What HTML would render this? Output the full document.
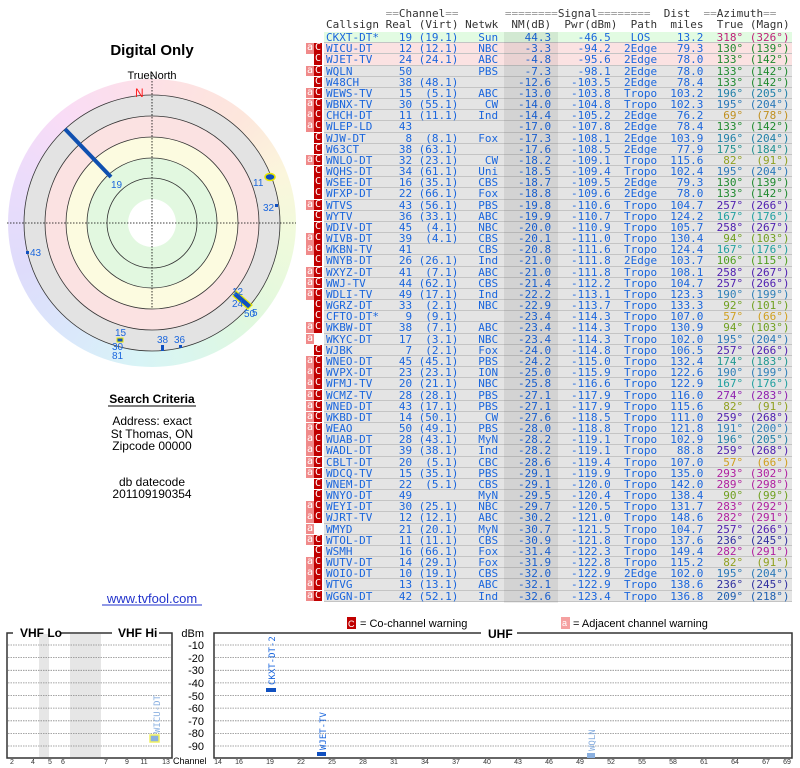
<!DOCTYPE html>
<html><head><meta charset="utf-8">
<style>
*{margin:0;padding:0;box-sizing:border-box}
body{width:800px;height:768px;background:#fff;position:relative;overflow:hidden;font-family:"Liberation Sans",sans-serif}
.ab{position:absolute}
.mono{font-family:"DejaVu Sans Mono","Liberation Mono",monospace;font-size:11px;white-space:pre}
.hd{position:absolute;left:326px;color:#333;line-height:11px}
.hd .q{color:#999}
#rows{position:absolute;left:304px;top:32px;width:490px}
.r{height:11.18px;line-height:11.18px;display:flex;font-family:"DejaVu Sans Mono","Liberation Mono",monospace;font-size:11px;white-space:pre;color:#1a66dd}
.mk{width:20px;display:flex;padding-left:2px}
.mk i{display:inline-block;width:8px;height:10.6px;font-style:normal;font-size:10px;line-height:10.6px;text-align:center;color:#fff}
.mk .ia{background:#f08a8a}
.mk .ic{background:#c00000}
.t{width:468px;background:#e4e4e4;box-shadow:inset 0 -1px #c4c4c4;padding-left:2px}
.g1 .t{background:#e2fbe2}
.p1 .t{background:#fbe2e2}
.t span{display:inline-block;text-align:right}
.t .a{width:9ch;text-align:left}.t .b{width:4ch}.t .c{width:7ch}.t .d{width:6ch}.t .e{width:8ch}.t .f{width:9ch}
.t .g{width:7ch;padding-left:2ch;text-align:center}.t .h{width:7ch}.t .k{width:6ch}.t .m{width:7ch}
.t span.z{display:inline}
</style></head><body>

<!-- polar wheel background -->
<div class="ab" style="left:8px;top:79px;width:288px;height:288px;border-radius:50%;background:conic-gradient(from 0deg,#fde0e6,#fde6dc 40deg,#fbf6dc 70deg,#f0fadc 95deg,#e0f8de 135deg,#daf6ee 165deg,#d8f4f6 185deg,#dae8fb 215deg,#dedcfb 250deg,#ecdcfb 290deg,#f9dcf6 320deg,#fde0e6)"></div>

<svg class="ab" style="left:0;top:0" width="800" height="768" viewBox="0 0 800 768" font-family="Liberation Sans, sans-serif">
<text x="152" y="55" font-size="15" font-weight="bold" text-anchor="middle" fill="#000">Digital Only</text>
<text x="152" y="79" font-size="11" text-anchor="middle" fill="#000">TrueNorth</text>
<circle cx="152" cy="223" r="128" fill="#e3e3e3" stroke="#333" stroke-width="0.8"/>
<circle cx="152" cy="223" r="107" fill="#fbe2e2" stroke="#333" stroke-width="0.8"/>
<circle cx="152" cy="223" r="86" fill="#fcfbe0" stroke="#333" stroke-width="0.8"/>
<circle cx="152" cy="223" r="65" fill="#e2f8e0" stroke="#333" stroke-width="0.8"/>
<circle cx="152" cy="223" r="45" fill="#e2f8e0" stroke="#333" stroke-width="0.8"/>
<circle cx="152" cy="223" r="24" fill="#fff"/>
<line x1="7" y1="223" x2="296" y2="223" stroke="#000" stroke-width="0.8" stroke-dasharray="1.5,1.5"/>
<line x1="152" y1="72" x2="152" y2="308" stroke="#000" stroke-width="0.8" stroke-dasharray="1.5,1.5"/>
<text x="135" y="97" font-size="12" fill="#ff2020">N</text>
<line x1="65" y1="129" x2="111" y2="177" stroke="#1050b0" stroke-width="4"/>
<g font-size="10" fill="#1a66dd">
<text x="111" y="188">19</text>
<ellipse cx="270" cy="177" rx="5" ry="3.5" fill="#1050c0" stroke="#e8e800" stroke-width="1.5"/>
<text x="253" y="186">11</text>
<rect x="275" y="204" width="3" height="3" fill="#1050c0"/><text x="263" y="211">32</text>
<rect x="26" y="251" width="3" height="3" fill="#1050c0"/><text x="30" y="256">43</text>
<polygon points="236,291 252,305 248,309 233,296" fill="#1050c0" stroke="#e8e800" stroke-width="1.2"/>
<text x="232" y="295">12</text><text x="232" y="307">24</text><text x="244" y="317">50</text><text x="252" y="316">5</text>
<text x="115" y="336">15</text>
<rect x="117" y="338" width="6" height="4" fill="#1050c0" stroke="#e8e800" stroke-width="1"/>
<text x="112" y="350">30</text><text x="112" y="359">81</text>
<rect x="161" y="345" width="3" height="6" fill="#1050c0"/><text x="157" y="343">38</text>
<rect x="179" y="345" width="3" height="3" fill="#1050c0"/><text x="174" y="343">36</text>
</g>

<!-- search criteria -->
<g font-size="12" fill="#000" text-anchor="middle">
<text x="152" y="403" font-weight="bold">Search Criteria</text>
<line x1="108" y1="406" x2="196" y2="406" stroke="#000" stroke-width="1"/>
<text x="152" y="425">Address: exact</text>
<text x="152" y="438">St Thomas, ON</text>
<text x="152" y="450">Zipcode 00000</text>
<text x="152" y="486">db datecode</text>
<text x="152" y="498">201109190354</text>
<text x="152" y="603" fill="#2233cc" font-size="13">www.tvfool.com</text>
<line x1="102" y1="605" x2="202" y2="605" stroke="#2233cc" stroke-width="1"/>
</g>

<!-- legend -->
<rect x="347" y="617" width="9" height="12" fill="#c00000"/><text x="348" y="627" font-size="9" fill="#fff">C</text>
<text x="360" y="627" font-size="11" fill="#000">= Co-channel warning</text>
<rect x="561" y="617" width="9" height="12" fill="#f5a0a0"/><text x="562" y="626" font-size="9" fill="#fff">a</text>
<text x="573" y="627" font-size="11" fill="#000">= Adjacent channel warning</text>

<!-- VHF panel -->
<rect x="39" y="634" width="10" height="123" fill="#e6e6e6"/>
<rect x="70" y="634" width="31" height="123" fill="#e6e6e6"/>
<g stroke="#888" stroke-width="0.8" stroke-dasharray="1.5,1">
<line x1="8" y1="645" x2="171" y2="645"/><line x1="8" y1="657.6" x2="171" y2="657.6"/><line x1="8" y1="670.3" x2="171" y2="670.3"/><line x1="8" y1="682.9" x2="171" y2="682.9"/><line x1="8" y1="695.5" x2="171" y2="695.5"/><line x1="8" y1="708.1" x2="171" y2="708.1"/><line x1="8" y1="720.8" x2="171" y2="720.8"/><line x1="8" y1="733.4" x2="171" y2="733.4"/><line x1="8" y1="746" x2="171" y2="746"/>
<line x1="215" y1="645" x2="791" y2="645"/><line x1="215" y1="657.6" x2="791" y2="657.6"/><line x1="215" y1="670.3" x2="791" y2="670.3"/><line x1="215" y1="682.9" x2="791" y2="682.9"/><line x1="215" y1="695.5" x2="791" y2="695.5"/><line x1="215" y1="708.1" x2="791" y2="708.1"/><line x1="215" y1="720.8" x2="791" y2="720.8"/><line x1="215" y1="733.4" x2="791" y2="733.4"/><line x1="215" y1="746" x2="791" y2="746"/>
</g>
<g stroke="#333" stroke-width="1.5" fill="none">
<polyline points="13,633 7,633 7,758 172,758 172,633 159,633"/>
<line x1="61" y1="633" x2="112" y2="633"/>
<polyline points="481,633 214,633 214,758 792,758 792,633 517,633"/>
</g>
<text x="20" y="637" font-size="12" font-weight="bold" fill="#000">VHF Lo</text>
<text x="118" y="637" font-size="12" font-weight="bold" fill="#000">VHF Hi</text>
<text x="488" y="638" font-size="12" font-weight="bold" fill="#000">UHF</text>
<g font-size="11" fill="#000" text-anchor="end">
<text x="204" y="637">dBm</text><text x="204" y="649">-10</text><text x="204" y="662">-20</text><text x="204" y="674">-30</text><text x="204" y="687">-40</text><text x="204" y="700">-50</text><text x="204" y="712">-60</text><text x="204" y="725">-70</text><text x="204" y="737">-80</text><text x="204" y="750">-90</text>
</g>
<text x="173" y="764" font-size="9" fill="#000">Channel</text>
<g font-size="7" fill="#333" text-anchor="middle">
<text x="12" y="764">2</text><text x="33" y="764">4</text><text x="50" y="764">5</text><text x="63" y="764">6</text><text x="106" y="764">7</text><text x="127" y="764">9</text><text x="144" y="764">11</text><text x="166" y="764">13</text>
<text x="218" y="764">14</text><text x="239" y="764">16</text><text x="270" y="764">19</text><text x="301" y="764">22</text><text x="332" y="764">25</text><text x="363" y="764">28</text><text x="394" y="764">31</text><text x="425" y="764">34</text><text x="456" y="764">37</text><text x="487" y="764">40</text><text x="518" y="764">43</text><text x="549" y="764">46</text><text x="580" y="764">49</text><text x="611" y="764">52</text><text x="642" y="764">55</text><text x="673" y="764">58</text><text x="704" y="764">61</text><text x="735" y="764">64</text><text x="766" y="764">67</text><text x="787" y="764">69</text>
</g>
<rect x="150" y="735" width="9" height="7" fill="#8ab0e0" stroke="#f0f060" stroke-width="1.5"/>
<text transform="translate(160,733) rotate(-90)" font-size="9" fill="#8ab0e0" font-family="DejaVu Sans Mono, monospace">WICU-DT</text>
<rect x="266" y="688" width="10" height="4" fill="#1050c0"/>
<text transform="translate(275,685) rotate(-90)" font-size="9" fill="#1a66dd" font-family="DejaVu Sans Mono, monospace">CKXT-DT-2</text>
<rect x="317" y="752" width="9" height="4" fill="#1050c0"/>
<text transform="translate(326,750) rotate(-90)" font-size="9" fill="#1a66dd" font-family="DejaVu Sans Mono, monospace">WJET-TV</text>
<rect x="587" y="753" width="8" height="5" fill="#8ab0e0"/>
<text transform="translate(595,751) rotate(-90)" font-size="9" fill="#8ab0e0" font-family="DejaVu Sans Mono, monospace">WQLN</text>
</svg>

<div class="hd mono" style="top:8px"><span class="q">         ==</span>Channel<span class="q">==</span>       <span class="q">========</span>Signal<span class="q">========</span>  Dist  <span class="q">==</span>Azimuth<span class="q">==</span></div>
<div class="hd mono" style="top:19px">Callsign Real (Virt) Netwk  NM(dB)  Pwr(dBm)  Path  miles  True (Magn)</div>

<div id="rows">
<div class="r g1"><span class="mk"><i></i><i></i></span><span class="t"><span class="a">CKXT-DT*</span><span class="b">19</span><span class="c">(19.1)</span><span class="d">Sun</span><span class="e">44.3</span><span class="f">-46.5</span><span class="g">LOS</span><span class="h">13.2</span><span class="z" style="color:#c0207a"><span class="k">318°</span><span class="m">(326°)</span></span></span></div>
<div class="r p1"><span class="mk"><i class="ia">a</i><i class="ic">C</i></span><span class="t"><span class="a">WICU-DT</span><span class="b">12</span><span class="c">(12.1)</span><span class="d">NBC</span><span class="e">-3.3</span><span class="f">-94.2</span><span class="g">2Edge</span><span class="h">79.3</span><span class="z" style="color:#208a30"><span class="k">130°</span><span class="m">(139°)</span></span></span></div>
<div class="r p1"><span class="mk"><i></i><i class="ic">C</i></span><span class="t"><span class="a">WJET-TV</span><span class="b">24</span><span class="c">(24.1)</span><span class="d">ABC</span><span class="e">-4.8</span><span class="f">-95.6</span><span class="g">2Edge</span><span class="h">78.0</span><span class="z" style="color:#208a30"><span class="k">133°</span><span class="m">(142°)</span></span></span></div>
<div class="r"><span class="mk"><i class="ia">a</i><i class="ic">C</i></span><span class="t"><span class="a">WQLN</span><span class="b">50</span><span class="c"></span><span class="d">PBS</span><span class="e">-7.3</span><span class="f">-98.1</span><span class="g">2Edge</span><span class="h">78.0</span><span class="z" style="color:#208a30"><span class="k">133°</span><span class="m">(142°)</span></span></span></div>
<div class="r"><span class="mk"><i></i><i class="ic">C</i></span><span class="t"><span class="a">W48CH</span><span class="b">38</span><span class="c">(48.1)</span><span class="d"></span><span class="e">-12.6</span><span class="f">-103.5</span><span class="g">2Edge</span><span class="h">78.4</span><span class="z" style="color:#208a30"><span class="k">133°</span><span class="m">(142°)</span></span></span></div>
<div class="r"><span class="mk"><i class="ia">a</i><i class="ic">C</i></span><span class="t"><span class="a">WEWS-TV</span><span class="b">15</span><span class="c">(5.1)</span><span class="d">ABC</span><span class="e">-13.0</span><span class="f">-103.8</span><span class="g">Tropo</span><span class="h">103.2</span><span class="z" style="color:#2080a8"><span class="k">196°</span><span class="m">(205°)</span></span></span></div>
<div class="r"><span class="mk"><i class="ia">a</i><i class="ic">C</i></span><span class="t"><span class="a">WBNX-TV</span><span class="b">30</span><span class="c">(55.1)</span><span class="d">CW</span><span class="e">-14.0</span><span class="f">-104.8</span><span class="g">Tropo</span><span class="h">102.3</span><span class="z" style="color:#2a78b8"><span class="k">195°</span><span class="m">(204°)</span></span></span></div>
<div class="r"><span class="mk"><i class="ia">a</i><i class="ic">C</i></span><span class="t"><span class="a">CHCH-DT</span><span class="b">11</span><span class="c">(11.1)</span><span class="d">Ind</span><span class="e">-14.4</span><span class="f">-105.2</span><span class="g">2Edge</span><span class="h">76.2</span><span class="z" style="color:#c09020"><span class="k">69°</span><span class="m">(78°)</span></span></span></div>
<div class="r"><span class="mk"><i class="ia">a</i><i class="ic">C</i></span><span class="t"><span class="a">WLEP-LD</span><span class="b">43</span><span class="c"></span><span class="d"></span><span class="e">-17.0</span><span class="f">-107.8</span><span class="g">2Edge</span><span class="h">78.4</span><span class="z" style="color:#208a30"><span class="k">133°</span><span class="m">(142°)</span></span></span></div>
<div class="r"><span class="mk"><i></i><i class="ic">C</i></span><span class="t"><span class="a">WJW-DT</span><span class="b">8</span><span class="c">(8.1)</span><span class="d">Fox</span><span class="e">-17.3</span><span class="f">-108.1</span><span class="g">2Edge</span><span class="h">103.9</span><span class="z" style="color:#2080a8"><span class="k">196°</span><span class="m">(204°)</span></span></span></div>
<div class="r"><span class="mk"><i></i><i class="ic">C</i></span><span class="t"><span class="a">W63CT</span><span class="b">38</span><span class="c">(63.1)</span><span class="d"></span><span class="e">-17.6</span><span class="f">-108.5</span><span class="g">2Edge</span><span class="h">77.9</span><span class="z" style="color:#209090"><span class="k">175°</span><span class="m">(184°)</span></span></span></div>
<div class="r"><span class="mk"><i class="ia">a</i><i class="ic">C</i></span><span class="t"><span class="a">WNLO-DT</span><span class="b">32</span><span class="c">(23.1)</span><span class="d">CW</span><span class="e">-18.2</span><span class="f">-109.1</span><span class="g">Tropo</span><span class="h">115.6</span><span class="z" style="color:#90a020"><span class="k">82°</span><span class="m">(91°)</span></span></span></div>
<div class="r"><span class="mk"><i></i><i class="ic">C</i></span><span class="t"><span class="a">WQHS-DT</span><span class="b">34</span><span class="c">(61.1)</span><span class="d">Uni</span><span class="e">-18.5</span><span class="f">-109.4</span><span class="g">Tropo</span><span class="h">102.4</span><span class="z" style="color:#2a78b8"><span class="k">195°</span><span class="m">(204°)</span></span></span></div>
<div class="r"><span class="mk"><i></i><i class="ic">C</i></span><span class="t"><span class="a">WSEE-DT</span><span class="b">16</span><span class="c">(35.1)</span><span class="d">CBS</span><span class="e">-18.7</span><span class="f">-109.5</span><span class="g">2Edge</span><span class="h">79.3</span><span class="z" style="color:#208a30"><span class="k">130°</span><span class="m">(139°)</span></span></span></div>
<div class="r"><span class="mk"><i></i><i class="ic">C</i></span><span class="t"><span class="a">WFXP-DT</span><span class="b">22</span><span class="c">(66.1)</span><span class="d">Fox</span><span class="e">-18.8</span><span class="f">-109.6</span><span class="g">2Edge</span><span class="h">78.0</span><span class="z" style="color:#208a30"><span class="k">133°</span><span class="m">(142°)</span></span></span></div>
<div class="r"><span class="mk"><i class="ia">a</i><i class="ic">C</i></span><span class="t"><span class="a">WTVS</span><span class="b">43</span><span class="c">(56.1)</span><span class="d">PBS</span><span class="e">-19.8</span><span class="f">-110.6</span><span class="g">Tropo</span><span class="h">104.7</span><span class="z" style="color:#5020b0"><span class="k">257°</span><span class="m">(266°)</span></span></span></div>
<div class="r"><span class="mk"><i></i><i class="ic">C</i></span><span class="t"><span class="a">WYTV</span><span class="b">36</span><span class="c">(33.1)</span><span class="d">ABC</span><span class="e">-19.9</span><span class="f">-110.7</span><span class="g">Tropo</span><span class="h">124.2</span><span class="z" style="color:#20a0a0"><span class="k">167°</span><span class="m">(176°)</span></span></span></div>
<div class="r"><span class="mk"><i></i><i class="ic">C</i></span><span class="t"><span class="a">WDIV-DT</span><span class="b">45</span><span class="c">(4.1)</span><span class="d">NBC</span><span class="e">-20.0</span><span class="f">-110.9</span><span class="g">Tropo</span><span class="h">105.7</span><span class="z" style="color:#5020b0"><span class="k">258°</span><span class="m">(267°)</span></span></span></div>
<div class="r"><span class="mk"><i class="ia">a</i><i class="ic">C</i></span><span class="t"><span class="a">WIVB-DT</span><span class="b">39</span><span class="c">(4.1)</span><span class="d">CBS</span><span class="e">-20.1</span><span class="f">-111.0</span><span class="g">Tropo</span><span class="h">130.4</span><span class="z" style="color:#70a020"><span class="k">94°</span><span class="m">(103°)</span></span></span></div>
<div class="r"><span class="mk"><i class="ia">a</i><i class="ic">C</i></span><span class="t"><span class="a">WKBN-TV</span><span class="b">41</span><span class="c"></span><span class="d">CBS</span><span class="e">-20.8</span><span class="f">-111.6</span><span class="g">Tropo</span><span class="h">124.4</span><span class="z" style="color:#20a0a0"><span class="k">167°</span><span class="m">(176°)</span></span></span></div>
<div class="r"><span class="mk"><i></i><i class="ic">C</i></span><span class="t"><span class="a">WNYB-DT</span><span class="b">26</span><span class="c">(26.1)</span><span class="d">Ind</span><span class="e">-21.0</span><span class="f">-111.8</span><span class="g">2Edge</span><span class="h">103.7</span><span class="z" style="color:#50a020"><span class="k">106°</span><span class="m">(115°)</span></span></span></div>
<div class="r"><span class="mk"><i class="ia">a</i><i class="ic">C</i></span><span class="t"><span class="a">WXYZ-DT</span><span class="b">41</span><span class="c">(7.1)</span><span class="d">ABC</span><span class="e">-21.0</span><span class="f">-111.8</span><span class="g">Tropo</span><span class="h">108.1</span><span class="z" style="color:#5020b0"><span class="k">258°</span><span class="m">(267°)</span></span></span></div>
<div class="r"><span class="mk"><i class="ia">a</i><i class="ic">C</i></span><span class="t"><span class="a">WWJ-TV</span><span class="b">44</span><span class="c">(62.1)</span><span class="d">CBS</span><span class="e">-21.4</span><span class="f">-112.2</span><span class="g">Tropo</span><span class="h">104.7</span><span class="z" style="color:#5020b0"><span class="k">257°</span><span class="m">(266°)</span></span></span></div>
<div class="r"><span class="mk"><i class="ia">a</i><i class="ic">C</i></span><span class="t"><span class="a">WDLI-TV</span><span class="b">49</span><span class="c">(17.1)</span><span class="d">Ind</span><span class="e">-22.2</span><span class="f">-113.1</span><span class="g">Tropo</span><span class="h">123.3</span><span class="z" style="color:#3080b8"><span class="k">190°</span><span class="m">(199°)</span></span></span></div>
<div class="r"><span class="mk"><i></i><i class="ic">C</i></span><span class="t"><span class="a">WGRZ-DT</span><span class="b">33</span><span class="c">(2.1)</span><span class="d">NBC</span><span class="e">-22.9</span><span class="f">-113.7</span><span class="g">Tropo</span><span class="h">133.3</span><span class="z" style="color:#70a020"><span class="k">92°</span><span class="m">(101°)</span></span></span></div>
<div class="r"><span class="mk"><i></i><i class="ic">C</i></span><span class="t"><span class="a">CFTO-DT*</span><span class="b">9</span><span class="c">(9.1)</span><span class="d"></span><span class="e">-23.4</span><span class="f">-114.3</span><span class="g">Tropo</span><span class="h">107.0</span><span class="z" style="color:#d0a020"><span class="k">57°</span><span class="m">(66°)</span></span></span></div>
<div class="r"><span class="mk"><i class="ia">a</i><i class="ic">C</i></span><span class="t"><span class="a">WKBW-DT</span><span class="b">38</span><span class="c">(7.1)</span><span class="d">ABC</span><span class="e">-23.4</span><span class="f">-114.3</span><span class="g">Tropo</span><span class="h">130.9</span><span class="z" style="color:#70a020"><span class="k">94°</span><span class="m">(103°)</span></span></span></div>
<div class="r"><span class="mk"><i class="ia">a</i><i></i></span><span class="t"><span class="a">WKYC-DT</span><span class="b">17</span><span class="c">(3.1)</span><span class="d">NBC</span><span class="e">-23.4</span><span class="f">-114.3</span><span class="g">Tropo</span><span class="h">102.0</span><span class="z" style="color:#2a78b8"><span class="k">195°</span><span class="m">(204°)</span></span></span></div>
<div class="r"><span class="mk"><i></i><i class="ic">C</i></span><span class="t"><span class="a">WJBK</span><span class="b">7</span><span class="c">(2.1)</span><span class="d">Fox</span><span class="e">-24.0</span><span class="f">-114.8</span><span class="g">Tropo</span><span class="h">106.5</span><span class="z" style="color:#5020b0"><span class="k">257°</span><span class="m">(266°)</span></span></span></div>
<div class="r"><span class="mk"><i class="ia">a</i><i class="ic">C</i></span><span class="t"><span class="a">WNEO-DT</span><span class="b">45</span><span class="c">(45.1)</span><span class="d">PBS</span><span class="e">-24.2</span><span class="f">-115.0</span><span class="g">Tropo</span><span class="h">132.4</span><span class="z" style="color:#209890"><span class="k">174°</span><span class="m">(183°)</span></span></span></div>
<div class="r"><span class="mk"><i class="ia">a</i><i class="ic">C</i></span><span class="t"><span class="a">WVPX-DT</span><span class="b">23</span><span class="c">(23.1)</span><span class="d">ION</span><span class="e">-25.0</span><span class="f">-115.9</span><span class="g">Tropo</span><span class="h">122.6</span><span class="z" style="color:#3080b8"><span class="k">190°</span><span class="m">(199°)</span></span></span></div>
<div class="r"><span class="mk"><i class="ia">a</i><i class="ic">C</i></span><span class="t"><span class="a">WFMJ-TV</span><span class="b">20</span><span class="c">(21.1)</span><span class="d">NBC</span><span class="e">-25.8</span><span class="f">-116.6</span><span class="g">Tropo</span><span class="h">122.9</span><span class="z" style="color:#20a0a0"><span class="k">167°</span><span class="m">(176°)</span></span></span></div>
<div class="r"><span class="mk"><i class="ia">a</i><i class="ic">C</i></span><span class="t"><span class="a">WCMZ-TV</span><span class="b">28</span><span class="c">(28.1)</span><span class="d">PBS</span><span class="e">-27.1</span><span class="f">-117.9</span><span class="g">Tropo</span><span class="h">116.0</span><span class="z" style="color:#9020b0"><span class="k">274°</span><span class="m">(283°)</span></span></span></div>
<div class="r"><span class="mk"><i class="ia">a</i><i class="ic">C</i></span><span class="t"><span class="a">WNED-DT</span><span class="b">43</span><span class="c">(17.1)</span><span class="d">PBS</span><span class="e">-27.1</span><span class="f">-117.9</span><span class="g">Tropo</span><span class="h">115.6</span><span class="z" style="color:#90a020"><span class="k">82°</span><span class="m">(91°)</span></span></span></div>
<div class="r"><span class="mk"><i class="ia">a</i><i class="ic">C</i></span><span class="t"><span class="a">WKBD-DT</span><span class="b">14</span><span class="c">(50.1)</span><span class="d">CW</span><span class="e">-27.6</span><span class="f">-118.5</span><span class="g">Tropo</span><span class="h">111.0</span><span class="z" style="color:#5020b0"><span class="k">259°</span><span class="m">(268°)</span></span></span></div>
<div class="r"><span class="mk"><i class="ia">a</i><i class="ic">C</i></span><span class="t"><span class="a">WEAO</span><span class="b">50</span><span class="c">(49.1)</span><span class="d">PBS</span><span class="e">-28.0</span><span class="f">-118.8</span><span class="g">Tropo</span><span class="h">121.8</span><span class="z" style="color:#3080b8"><span class="k">191°</span><span class="m">(200°)</span></span></span></div>
<div class="r"><span class="mk"><i class="ia">a</i><i class="ic">C</i></span><span class="t"><span class="a">WUAB-DT</span><span class="b">28</span><span class="c">(43.1)</span><span class="d">MyN</span><span class="e">-28.2</span><span class="f">-119.1</span><span class="g">Tropo</span><span class="h">102.9</span><span class="z" style="color:#2080a8"><span class="k">196°</span><span class="m">(205°)</span></span></span></div>
<div class="r"><span class="mk"><i class="ia">a</i><i class="ic">C</i></span><span class="t"><span class="a">WADL-DT</span><span class="b">39</span><span class="c">(38.1)</span><span class="d">Ind</span><span class="e">-28.2</span><span class="f">-119.1</span><span class="g">Tropo</span><span class="h">88.8</span><span class="z" style="color:#5020b0"><span class="k">259°</span><span class="m">(268°)</span></span></span></div>
<div class="r"><span class="mk"><i class="ia">a</i><i class="ic">C</i></span><span class="t"><span class="a">CBLT-DT</span><span class="b">20</span><span class="c">(5.1)</span><span class="d">CBC</span><span class="e">-28.6</span><span class="f">-119.4</span><span class="g">Tropo</span><span class="h">107.0</span><span class="z" style="color:#d0a020"><span class="k">57°</span><span class="m">(66°)</span></span></span></div>
<div class="r"><span class="mk"><i class="ia">a</i><i class="ic">C</i></span><span class="t"><span class="a">WDCQ-TV</span><span class="b">15</span><span class="c">(35.1)</span><span class="d">PBS</span><span class="e">-29.1</span><span class="f">-119.9</span><span class="g">Tropo</span><span class="h">135.0</span><span class="z" style="color:#b020a0"><span class="k">293°</span><span class="m">(302°)</span></span></span></div>
<div class="r"><span class="mk"><i></i><i class="ic">C</i></span><span class="t"><span class="a">WNEM-DT</span><span class="b">22</span><span class="c">(5.1)</span><span class="d">CBS</span><span class="e">-29.1</span><span class="f">-120.0</span><span class="g">Tropo</span><span class="h">142.0</span><span class="z" style="color:#b020a0"><span class="k">289°</span><span class="m">(298°)</span></span></span></div>
<div class="r"><span class="mk"><i></i><i class="ic">C</i></span><span class="t"><span class="a">WNYO-DT</span><span class="b">49</span><span class="c"></span><span class="d">MyN</span><span class="e">-29.5</span><span class="f">-120.4</span><span class="g">Tropo</span><span class="h">138.4</span><span class="z" style="color:#70a020"><span class="k">90°</span><span class="m">(99°)</span></span></span></div>
<div class="r"><span class="mk"><i class="ia">a</i><i class="ic">C</i></span><span class="t"><span class="a">WEYI-DT</span><span class="b">30</span><span class="c">(25.1)</span><span class="d">NBC</span><span class="e">-29.7</span><span class="f">-120.5</span><span class="g">Tropo</span><span class="h">131.7</span><span class="z" style="color:#b020a0"><span class="k">283°</span><span class="m">(292°)</span></span></span></div>
<div class="r"><span class="mk"><i class="ia">a</i><i class="ic">C</i></span><span class="t"><span class="a">WJRT-TV</span><span class="b">12</span><span class="c">(12.1)</span><span class="d">ABC</span><span class="e">-30.2</span><span class="f">-121.0</span><span class="g">Tropo</span><span class="h">148.6</span><span class="z" style="color:#b020a0"><span class="k">282°</span><span class="m">(291°)</span></span></span></div>
<div class="r"><span class="mk"><i class="ia">a</i><i></i></span><span class="t"><span class="a">WMYD</span><span class="b">21</span><span class="c">(20.1)</span><span class="d">MyN</span><span class="e">-30.7</span><span class="f">-121.5</span><span class="g">Tropo</span><span class="h">104.7</span><span class="z" style="color:#5020b0"><span class="k">257°</span><span class="m">(266°)</span></span></span></div>
<div class="r"><span class="mk"><i class="ia">a</i><i class="ic">C</i></span><span class="t"><span class="a">WTOL-DT</span><span class="b">11</span><span class="c">(11.1)</span><span class="d">CBS</span><span class="e">-30.9</span><span class="f">-121.8</span><span class="g">Tropo</span><span class="h">137.6</span><span class="z" style="color:#3030a0"><span class="k">236°</span><span class="m">(245°)</span></span></span></div>
<div class="r"><span class="mk"><i></i><i class="ic">C</i></span><span class="t"><span class="a">WSMH</span><span class="b">16</span><span class="c">(66.1)</span><span class="d">Fox</span><span class="e">-31.4</span><span class="f">-122.3</span><span class="g">Tropo</span><span class="h">149.4</span><span class="z" style="color:#b020a0"><span class="k">282°</span><span class="m">(291°)</span></span></span></div>
<div class="r"><span class="mk"><i class="ia">a</i><i class="ic">C</i></span><span class="t"><span class="a">WUTV-DT</span><span class="b">14</span><span class="c">(29.1)</span><span class="d">Fox</span><span class="e">-31.9</span><span class="f">-122.8</span><span class="g">Tropo</span><span class="h">115.2</span><span class="z" style="color:#90a020"><span class="k">82°</span><span class="m">(91°)</span></span></span></div>
<div class="r"><span class="mk"><i class="ia">a</i><i class="ic">C</i></span><span class="t"><span class="a">WOIO-DT</span><span class="b">10</span><span class="c">(19.1)</span><span class="d">CBS</span><span class="e">-32.0</span><span class="f">-122.9</span><span class="g">2Edge</span><span class="h">102.0</span><span class="z" style="color:#2a78b8"><span class="k">195°</span><span class="m">(204°)</span></span></span></div>
<div class="r"><span class="mk"><i class="ia">a</i><i class="ic">C</i></span><span class="t"><span class="a">WTVG</span><span class="b">13</span><span class="c">(13.1)</span><span class="d">ABC</span><span class="e">-32.1</span><span class="f">-122.9</span><span class="g">Tropo</span><span class="h">138.6</span><span class="z" style="color:#3030a0"><span class="k">236°</span><span class="m">(245°)</span></span></span></div>
<div class="r"><span class="mk"><i class="ia">a</i><i class="ic">C</i></span><span class="t"><span class="a">WGGN-DT</span><span class="b">42</span><span class="c">(52.1)</span><span class="d">Ind</span><span class="e">-32.6</span><span class="f">-123.4</span><span class="g">Tropo</span><span class="h">136.8</span><span class="z" style="color:#2060b0"><span class="k">209°</span><span class="m">(218°)</span></span></span></div>
</div>
<div class="ab" style="left:504px;top:32px;width:54px;height:571px;background:rgba(0,0,0,0.07)"></div>
</body></html>
